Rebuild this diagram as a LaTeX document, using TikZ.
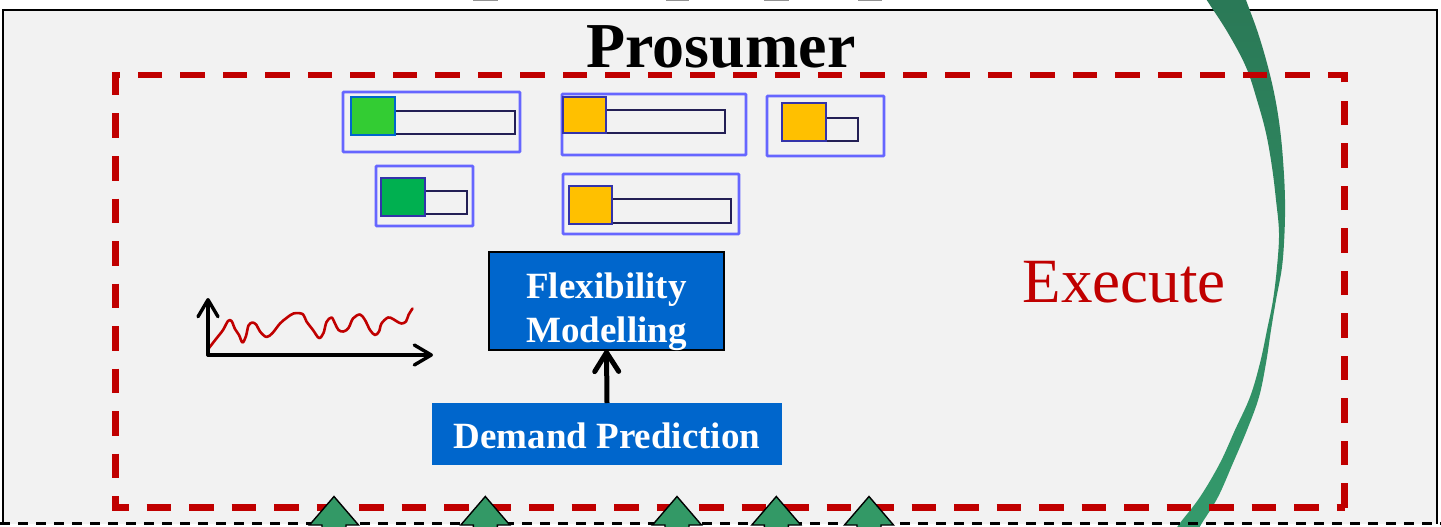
\documentclass[tikz,border=0pt]{standalone}
\usepackage{fontspec}
\setmainfont{Liberation Serif}
\usetikzlibrary{arrows.meta}
\definecolor{bgc}{HTML}{F2F2F2}
\definecolor{redc}{HTML}{C00000}
\definecolor{nodeblue}{HTML}{0066CC}
\definecolor{iconout}{HTML}{6666FF}
\definecolor{sqedge}{HTML}{3333AA}
\definecolor{baredge}{HTML}{231F55}
\definecolor{lgreen}{HTML}{33CC33}
\definecolor{dgreen}{HTML}{00B050}
\definecolor{amber}{HTML}{FFC000}
\definecolor{arrgreen}{HTML}{339966}
\definecolor{crestop}{HTML}{2A7856}
\definecolor{cresbot}{HTML}{349A6C}
\tikzset{
  outerbox/.style={draw=iconout, line width=2.6pt, anchor=north west, inner sep=0pt, outer sep=0pt, rounded corners=0.8pt},
  barbox/.style={draw=baredge, line width=2.3pt, anchor=north west, inner sep=0pt, outer sep=0pt, minimum height=23pt},
  sqbox/.style={draw=sqedge, line width=2.8pt, anchor=north west, inner sep=0pt, outer sep=0pt},
  bluebox/.style={fill=nodeblue, inner sep=0pt, outer sep=0pt},
  boxtext/.style={text=white, inner sep=0pt, anchor=base, font=\fontsize{37}{44}\selectfont\bfseries},
  axisline/.style={line width=3.4pt, line cap=round, -{Straight Barb[length=17pt, width=20pt, round]}},
  garrow/.style={fill=arrgreen, draw=black, line width=1.4pt, line join=miter},
}
\newcommand{\garrowat}[1]{\draw[garrow] (#1-12,536) -- (#1-12,525) -- (#1-24.5,525) -- (#1,496.5) -- (#1+24.5,525) -- (#1+12,525) -- (#1+12,536);}
\begin{document}
\begin{tikzpicture}[x=1pt,y=-1pt]
\useasboundingbox (0,0) rectangle (1441,527);
\fill[white] (0,0) rectangle (1441,527);
% faint bits of upper panel
\foreach \a/\b in {473/498, 666/689, 764/789, 858/882}{
  \fill[gray!85] (\a,-3) rectangle (\b,1.4);
}
\fill[bgc] (3,10) rectangle (1437,523.5);
\draw[line width=2pt] (3,524) -- (3,10) -- (1437,10) -- (1437,524);

% crescent
\shade[top color=crestop, bottom color=cresbot]
  plot[smooth, tension=0.6] coordinates {(1197,-15) (1206.7,0) (1228,33) (1246,67) (1257,100) (1266,133) (1272,167) (1276,200) (1279,233) (1277,267) (1273,300) (1267,330) (1260,363) (1250,397) (1235,430) (1220,463) (1200,497) (1180,523) (1172,535)}
  -- plot[smooth, tension=0.6] coordinates {(1195,535) (1202,523) (1218,497) (1233,463) (1247,430) (1259,397) (1266,363) (1271,330) (1276,300) (1282,267) (1284.5,233) (1285,200) (1283.5,167) (1280.5,133) (1275.5,100) (1268,67) (1258,33) (1246,0) (1241,-15)}
  -- cycle;

% red dashed execute frame
\draw[redc, line width=6.5pt, dash pattern=on 24.5pt off 18pt] (1344.5,507.5) -- (1344.5,75) -- (115.5,75) -- (115.5,507.5) -- cycle;

% bottom dashed separator
\draw[black, line width=2.4pt, dash pattern=on 10pt off 8pt] (0,523.5) -- (1441,523.5);

% titles
\node[anchor=base, font=\fontsize{64}{64}\selectfont\bfseries, inner sep=0pt] (title) at (721,68) {Prosumer};
\node[anchor=base, font=\fontsize{63}{63}\selectfont, text=redc, inner sep=0pt] (exec) at (1124,302) {Execute};

% icons
\node[outerbox, minimum width=177pt, minimum height=60pt] (o1) at (343,92) {};
\node[barbox, minimum width=120pt] (b1) at (395,111) {};
\node[sqbox, draw=nodeblue, fill=lgreen, minimum width=44pt, minimum height=38pt] (s1) at (351,97) {};

\node[outerbox, minimum width=184pt, minimum height=61pt] (o2) at (562,94) {};
\node[barbox, minimum width=119pt] (b2) at (606,110) {};
\node[sqbox, fill=amber, minimum width=43pt, minimum height=36pt] (s2) at (563,97) {};

\node[outerbox, minimum width=117pt, minimum height=60pt] (o3) at (767,96) {};
\node[barbox, minimum width=32pt] (b3) at (826,118) {};
\node[sqbox, fill=amber, minimum width=44pt, minimum height=38pt] (s3) at (782,103) {};

\node[outerbox, minimum width=97pt, minimum height=60pt] (o4) at (376,166) {};
\node[barbox, minimum width=42pt] (b4) at (425,191) {};
\node[sqbox, fill=dgreen, minimum width=44pt, minimum height=38pt] (s4) at (381,178) {};

\node[outerbox, minimum width=176pt, minimum height=60pt] (o5) at (563,174) {};
\node[barbox, minimum width=119pt, minimum height=24pt] (b5) at (612,199) {};
\node[sqbox, fill=amber, minimum width=43pt, minimum height=38pt] (s5) at (569,186) {};

% demand chart
\coordinate (origin) at (208,355);
\coordinate (ytop) at (208,298);
\coordinate (xend) at (433,355);
\draw[redc, line width=2.6pt, line cap=round, line join=round] plot[smooth, tension=0.55] coordinates {
(209,348) (216,339) (223,330) (228,321) (231.5,321) (235,329) (239,335) (242.5,342.5) (246,336) (248.5,325.5) (252.5,322.5) (256.5,325) (260,331.5) (266.5,337) (272.5,333) (280,323.5) (286.5,318) (293.5,313.5) (302.5,314) (306.5,321.5) (313,330) (319,338) (323.5,333) (326.5,322) (331.5,317.5) (335,323.5) (338.5,330) (343.5,331.5) (348.5,328) (353,318.5) (360,314.5) (365,320) (370,330) (375,335) (379,331.5) (381.5,323.5) (388,317.5) (393,319) (397,321.5) (401.5,323.5) (406,321.5) (408.5,315) (412.5,308.5)};
\draw[axisline] (origin) -- (ytop);
\draw[axisline] (origin) -- (xend);

% process nodes
\node[bluebox, draw=black, line width=1.5pt, minimum width=235pt, minimum height=98pt] (flex) at (606.5,301) {};
\node[boxtext] (flex1) at (606.5,298) {Flexibility};
\node[boxtext] (flex2) at (606.5,342) {Modelling};
\node[bluebox, minimum width=350pt, minimum height=62pt] (dem) at (607,434) {};
\node[boxtext] (demtext) at (607,448) {Demand Prediction};
\draw[line width=5pt, -{Straight Barb[length=19pt, width=24pt, round]}] (dem.north) -- (flex.south);

% green input arrows
\garrowat{334}
\garrowat{485.3}
\garrowat{677}
\garrowat{776.3}
\garrowat{869}
\end{tikzpicture}
\end{document}
